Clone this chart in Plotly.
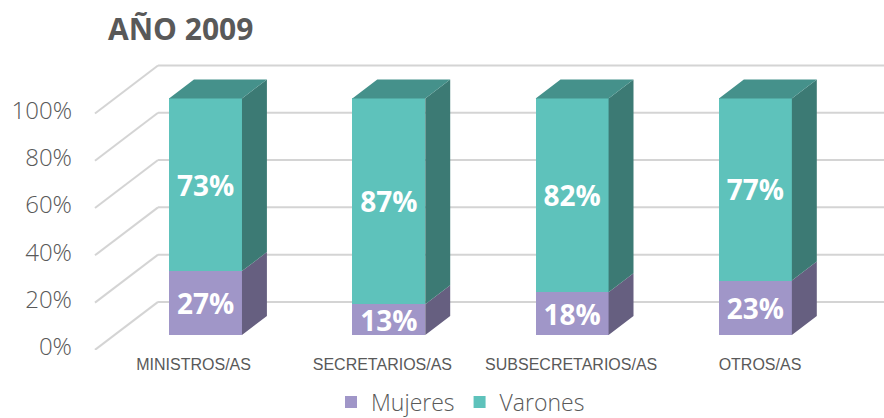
import plotly.graph_objects as go

# ---------------- data ----------------
categories = ["MINISTROS/AS", "SECRETARIOS/AS", "SUBSECRETARIOS/AS", "OTROS/AS"]
mujeres = [27, 13, 18, 23]
varones = [73, 87, 82, 77]
series_names = ["Mujeres", "Varones"]
y_ticks = [0, 20, 40, 60, 80, 100]
y_tick_labels = ["0%", "20%", "40%", "60%", "80%", "100%"]
title_text = "AÑO 2009"

# ---------------- style ----------------
PURPLE = "#A096C8"
PURPLE_SIDE = "#665F80"
TEAL = "#5EC2BB"
TEAL_SIDE = "#3C7A74"
TEAL_TOP = "#45918B"
GRID = "#D4D4D4"
TXT = "#595959"

W = 0.398                      # bar width (category units)
DX, DY = 0.136, 8.03           # bar depth offset
WALL_DX, WALL_DY = 0.236, 13.95  # back wall offset from bar front
FRONT_DX, FRONT_DY = -0.1074, -6.34  # front floor edge offset
WALL_X0 = -0.259
FRONT_X0 = -0.603
X_END = 3.75

xs = list(range(len(categories)))

fig = go.Figure()

# front faces (stacked bars)
fig.add_trace(go.Bar(
    x=xs, y=mujeres, name=series_names[0], width=W,
    marker=dict(color=PURPLE, line=dict(width=0)),
    text=[f"{v}%" for v in mujeres], textposition="inside",
    insidetextanchor="middle", constraintext="none",
    textfont=dict(color="white", size=28, family="Open Sans", weight="bold"),
    hoverinfo="skip",
))
fig.add_trace(go.Bar(
    x=xs, y=varones, name=series_names[1], width=W,
    marker=dict(color=TEAL, line=dict(width=0)),
    text=[f"{v}%" for v in varones], textposition="inside",
    insidetextanchor="middle", constraintext="none",
    textfont=dict(color="white", size=28, family="Open Sans", weight="bold"),
    hoverinfo="skip",
))

# side and top faces derived from the data
def poly_trace(px, py, color):
    return go.Scatter(x=px, y=py, mode="lines", fill="toself", fillcolor=color,
                      line=dict(width=0, color=color), showlegend=False,
                      hoverinfo="skip")

side_m_x, side_m_y, side_v_x, side_v_y, top_x, top_y = [], [], [], [], [], []
for i, m, v in zip(xs, mujeres, varones):
    xr = i + W / 2
    xl = i - W / 2
    tot = m + v
    side_m_x += [xr, xr + DX, xr + DX, xr, xr, None]
    side_m_y += [0, DY, m + DY, m, 0, None]
    side_v_x += [xr, xr + DX, xr + DX, xr, xr, None]
    side_v_y += [m, m + DY, tot + DY, tot, m, None]
    top_x += [xl, xl + DX, xr + DX, xr, xl, None]
    top_y += [tot, tot + DY, tot + DY, tot, tot, None]

fig.add_trace(poly_trace(side_m_x, side_m_y, PURPLE_SIDE))
fig.add_trace(poly_trace(side_v_x, side_v_y, TEAL_SIDE))
fig.add_trace(poly_trace(top_x, top_y, TEAL_TOP))

# 3-D gridlines: floor diagonals + back wall
shapes = []
for v in y_ticks:
    shapes.append(dict(type="line", xref="x", yref="y", layer="below",
                       x0=FRONT_X0, y0=v + FRONT_DY, x1=WALL_X0, y1=v + WALL_DY,
                       line=dict(color=GRID, width=2)))
    shapes.append(dict(type="line", xref="x", yref="y", layer="below",
                       x0=WALL_X0, y0=v + WALL_DY, x1=X_END, y1=v + WALL_DY,
                       line=dict(color=GRID, width=2)))

fig.update_layout(
    width=884, height=418,
    margin=dict(l=80, r=0, t=0, b=68, autoexpand=False),
    paper_bgcolor="white", plot_bgcolor="white",
    barmode="stack",
    shapes=shapes,
    showlegend=True,
    legend=dict(orientation="h", xref="container", yref="container",
                x=460.5 / 884, xanchor="center", y=(418 - 402) / 418,
                yanchor="middle", font=dict(size=23, color=TXT, family="Open Sans", weight=300),
                traceorder="normal"),
    title=dict(text=title_text, xref="container", yref="container",
               x=108 / 884, xanchor="left", y=1 - 29 / 418, yanchor="middle",
               font=dict(size=30, color=TXT, family="Open Sans", weight="bold")),
    xaxis=dict(range=[-0.6847, 3.7016], showgrid=False, zeroline=False, showline=False,
               tickvals=[i - 0.065 + 0.03 * i for i in xs], ticktext=categories,
               tickfont=dict(family="Liberation Sans, Arial", size=16, color=TXT),
               ticks="", ticklabelstandoff=3, automargin=False),
    yaxis=dict(range=[FRONT_DY - 0.05, 141.65], showgrid=False, zeroline=False, showline=False,
               tickvals=[v + FRONT_DY for v in y_ticks], ticktext=y_tick_labels,
               tickfont=dict(family="Open Sans", size=24, color=TXT, weight=300),
               ticks="", ticklabelstandoff=7, ticklabelshift=-3, automargin=False),
)

fig.write_html("out.html", config={"displayModeBar": False},
               post_script="document.body.style.margin='0';")
